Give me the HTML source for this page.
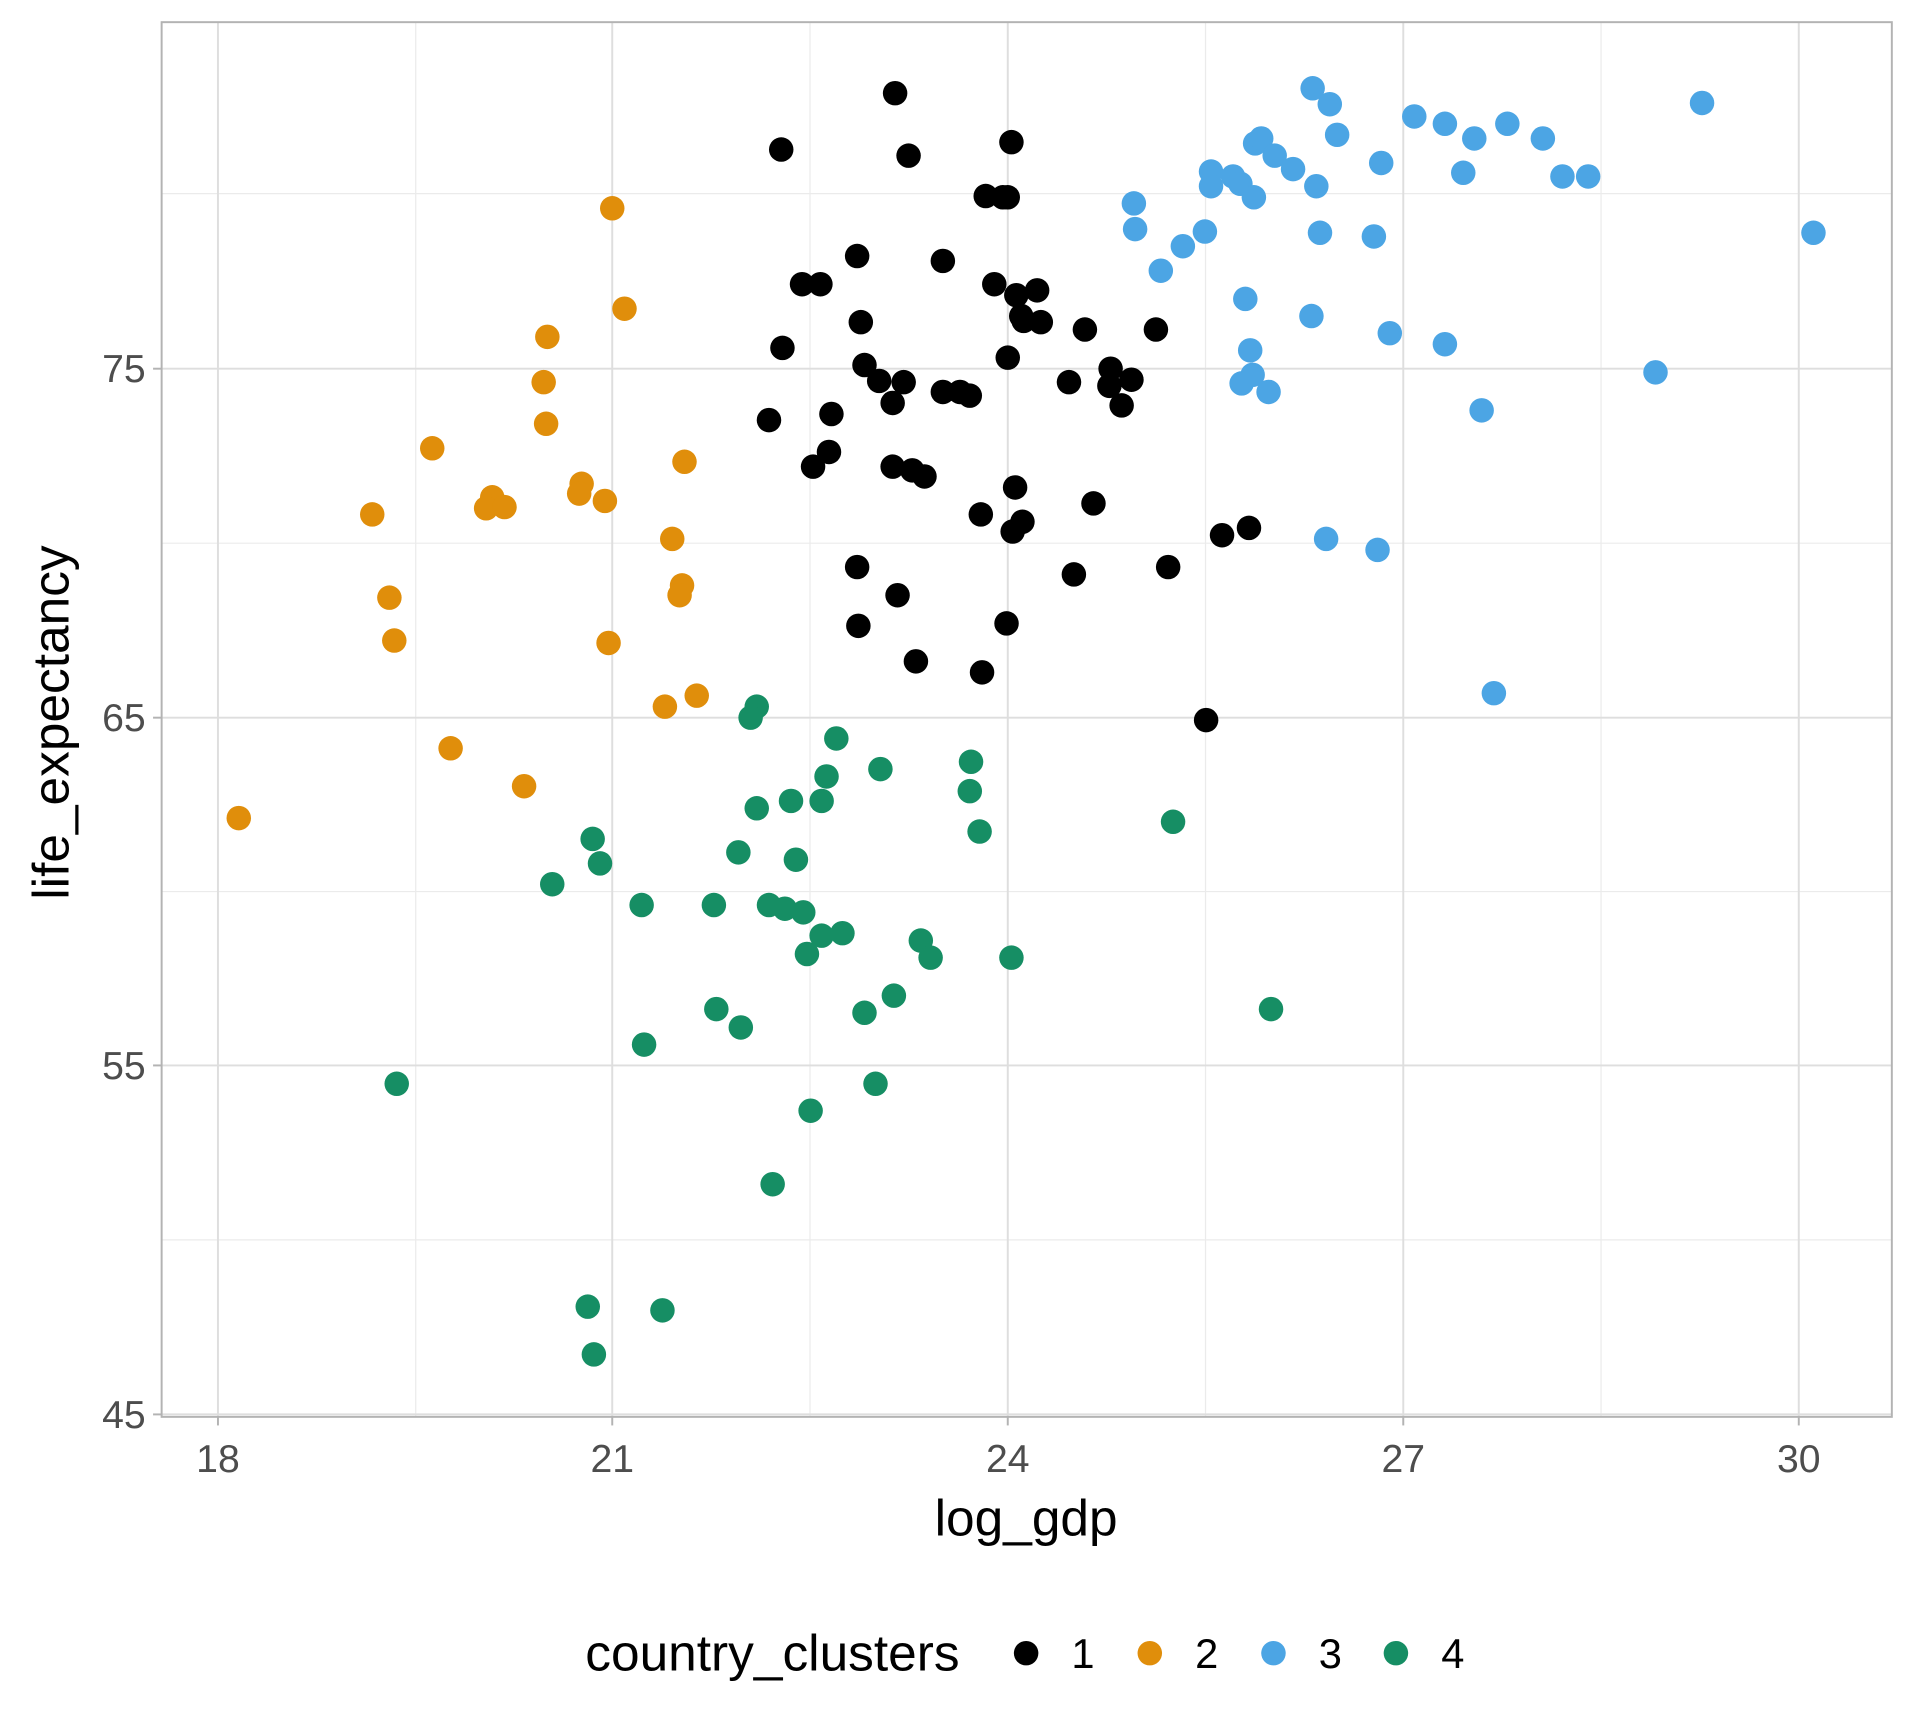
<!DOCTYPE html>
<html><head><meta charset="utf-8"><style>
html,body{margin:0;padding:0;background:#fff;}
svg{display:block;}
text{font-family:"Liberation Sans",Arial,sans-serif;}
</style></head><body>
<svg width="1920" height="1728" viewBox="0 0 1568 1411" xmlns="http://www.w3.org/2000/svg">
<rect width="1568" height="1411" fill="#fff"/>
<g stroke="#ebebeb" stroke-width="1">
<line x1="339.5" y1="18" x2="339.5" y2="1157"/><line x1="661.5" y1="18" x2="661.5" y2="1157"/><line x1="984.5" y1="18" x2="984.5" y2="1157"/><line x1="1307.5" y1="18" x2="1307.5" y2="1157"/>
<line x1="132" y1="158" x2="1545" y2="158"/><line x1="132" y1="443.5" x2="1545" y2="443.5"/><line x1="132" y1="728" x2="1545" y2="728"/><line x1="132" y1="1012.5" x2="1545" y2="1012.5"/>
</g>
<g stroke="#dedede" stroke-width="1.6">
<line x1="178" y1="18" x2="178" y2="1157"/><line x1="500" y1="18" x2="500" y2="1157"/><line x1="823" y1="18" x2="823" y2="1157"/><line x1="1146" y1="18" x2="1146" y2="1157"/><line x1="1469" y1="18" x2="1469" y2="1157"/>
<line x1="132" y1="301" x2="1545" y2="301"/><line x1="132" y1="586" x2="1545" y2="586"/><line x1="132" y1="870" x2="1545" y2="870"/><line x1="132" y1="1155" x2="1545" y2="1155"/>
</g>
<rect x="132" y="18" width="1413" height="1139" fill="none" stroke="#b3b3b3" stroke-width="1.6"/>
<g stroke="#b3b3b3" stroke-width="1.6">
<line x1="178" y1="1157" x2="178" y2="1164"/><line x1="500" y1="1157" x2="500" y2="1164"/><line x1="823" y1="1157" x2="823" y2="1164"/><line x1="1146" y1="1157" x2="1146" y2="1164"/><line x1="1469" y1="1157" x2="1469" y2="1164"/>
<line x1="125" y1="301" x2="132" y2="301"/><line x1="125" y1="586" x2="132" y2="586"/><line x1="125" y1="870" x2="132" y2="870"/><line x1="125" y1="1155" x2="132" y2="1155"/>
</g>
<g font-size="32" fill="#4d4d4d" text-anchor="middle">
<text x="178" y="1202">18</text><text x="500" y="1202">21</text><text x="823" y="1202">24</text><text x="1146" y="1202">27</text><text x="1469" y="1202">30</text>
</g>
<g font-size="32" fill="#4d4d4d" text-anchor="end">
<text x="119" y="312">75</text><text x="119" y="597">65</text><text x="119" y="881">55</text><text x="119" y="1166">45</text>
</g>
<text x="838" y="1254" font-size="42" text-anchor="middle" fill="#000">log_gdp</text>
<text transform="translate(56,590) rotate(-90)" font-size="42" text-anchor="middle" fill="#000">life_expectancy</text>
<g fill="#000">
<circle cx="731" cy="76" r="10"/><circle cx="638" cy="122" r="10"/><circle cx="742" cy="127" r="10"/><circle cx="826" cy="116" r="10"/><circle cx="805" cy="160" r="10"/><circle cx="819" cy="161" r="10"/><circle cx="823" cy="161" r="10"/><circle cx="700" cy="209" r="10"/><circle cx="770" cy="213" r="10"/><circle cx="655" cy="232" r="10"/><circle cx="670" cy="232" r="10"/><circle cx="812" cy="232" r="10"/><circle cx="830" cy="241" r="10"/><circle cx="847" cy="237" r="10"/><circle cx="703" cy="263" r="10"/><circle cx="834" cy="258" r="10"/><circle cx="836" cy="262" r="10"/><circle cx="850" cy="263" r="10"/><circle cx="886" cy="269" r="10"/><circle cx="944" cy="269" r="10"/><circle cx="639" cy="284" r="10"/><circle cx="823" cy="292" r="10"/><circle cx="706" cy="298" r="10"/><circle cx="718" cy="311" r="10"/><circle cx="738" cy="312" r="10"/><circle cx="729" cy="329" r="10"/><circle cx="770" cy="320" r="10"/><circle cx="784" cy="320" r="10"/><circle cx="792" cy="323" r="10"/><circle cx="873" cy="312" r="10"/><circle cx="907" cy="301" r="10"/><circle cx="924" cy="310" r="10"/><circle cx="906" cy="315" r="10"/><circle cx="916" cy="331" r="10"/><circle cx="628" cy="343" r="10"/><circle cx="679" cy="338" r="10"/><circle cx="677" cy="369" r="10"/><circle cx="664" cy="381" r="10"/><circle cx="729" cy="381" r="10"/><circle cx="745" cy="384" r="10"/><circle cx="755" cy="389" r="10"/><circle cx="829" cy="398" r="10"/><circle cx="893" cy="411" r="10"/><circle cx="801" cy="420" r="10"/><circle cx="835" cy="426" r="10"/><circle cx="827" cy="434" r="10"/><circle cx="998" cy="437" r="10"/><circle cx="1020" cy="431" r="10"/><circle cx="700" cy="463" r="10"/><circle cx="877" cy="469" r="10"/><circle cx="954" cy="463" r="10"/><circle cx="733" cy="486" r="10"/><circle cx="701" cy="511" r="10"/><circle cx="822" cy="509" r="10"/><circle cx="748" cy="540" r="10"/><circle cx="802" cy="549" r="10"/><circle cx="985" cy="588" r="10"/>
</g>
<g fill="#e08e0b">
<circle cx="500" cy="170" r="10"/><circle cx="510" cy="252" r="10"/><circle cx="447" cy="275" r="10"/><circle cx="444" cy="312" r="10"/><circle cx="446" cy="346" r="10"/><circle cx="353" cy="366" r="10"/><circle cx="559" cy="377" r="10"/><circle cx="475" cy="395" r="10"/><circle cx="473" cy="403" r="10"/><circle cx="494" cy="409" r="10"/><circle cx="402" cy="406" r="10"/><circle cx="397" cy="415" r="10"/><circle cx="412" cy="414" r="10"/><circle cx="304" cy="420" r="10"/><circle cx="549" cy="440" r="10"/><circle cx="557" cy="478" r="10"/><circle cx="555" cy="486" r="10"/><circle cx="318" cy="488" r="10"/><circle cx="322" cy="523" r="10"/><circle cx="497" cy="525" r="10"/><circle cx="569" cy="568" r="10"/><circle cx="543" cy="577" r="10"/><circle cx="368" cy="611" r="10"/><circle cx="428" cy="642" r="10"/><circle cx="195" cy="668" r="10"/>
</g>
<g fill="#4ca5e4">
<circle cx="1072" cy="72" r="10"/><circle cx="1086" cy="85" r="10"/><circle cx="1390" cy="84" r="10"/><circle cx="1155" cy="95" r="10"/><circle cx="1180" cy="101" r="10"/><circle cx="1231" cy="101" r="10"/><circle cx="1092" cy="110" r="10"/><circle cx="1204" cy="113" r="10"/><circle cx="1260" cy="113" r="10"/><circle cx="1025" cy="117" r="10"/><circle cx="1030" cy="113" r="10"/><circle cx="1041" cy="127" r="10"/><circle cx="1128" cy="133" r="10"/><circle cx="989" cy="140" r="10"/><circle cx="1007" cy="144" r="10"/><circle cx="1056" cy="138" r="10"/><circle cx="1013" cy="150" r="10"/><circle cx="989" cy="152" r="10"/><circle cx="1075" cy="152" r="10"/><circle cx="1024" cy="161" r="10"/><circle cx="1195" cy="141" r="10"/><circle cx="1276" cy="144" r="10"/><circle cx="1297" cy="144" r="10"/><circle cx="926" cy="166" r="10"/><circle cx="927" cy="187" r="10"/><circle cx="984" cy="189" r="10"/><circle cx="1078" cy="190" r="10"/><circle cx="1122" cy="193" r="10"/><circle cx="1481" cy="190" r="10"/><circle cx="966" cy="201" r="10"/><circle cx="948" cy="221" r="10"/><circle cx="1017" cy="244" r="10"/><circle cx="1071" cy="258" r="10"/><circle cx="1135" cy="272" r="10"/><circle cx="1180" cy="281" r="10"/><circle cx="1021" cy="286" r="10"/><circle cx="1023" cy="306" r="10"/><circle cx="1014" cy="313" r="10"/><circle cx="1036" cy="320" r="10"/><circle cx="1352" cy="304" r="10"/><circle cx="1210" cy="335" r="10"/><circle cx="1083" cy="440" r="10"/><circle cx="1125" cy="449" r="10"/><circle cx="1220" cy="566" r="10"/>
</g>
<g fill="#168e64">
<circle cx="618" cy="577" r="10"/><circle cx="613" cy="586" r="10"/><circle cx="683" cy="603" r="10"/><circle cx="793" cy="622" r="10"/><circle cx="719" cy="628" r="10"/><circle cx="675" cy="634" r="10"/><circle cx="792" cy="646" r="10"/><circle cx="618" cy="660" r="10"/><circle cx="646" cy="654" r="10"/><circle cx="671" cy="654" r="10"/><circle cx="958" cy="671" r="10"/><circle cx="800" cy="679" r="10"/><circle cx="484" cy="685" r="10"/><circle cx="603" cy="696" r="10"/><circle cx="650" cy="702" r="10"/><circle cx="490" cy="705" r="10"/><circle cx="451" cy="722" r="10"/><circle cx="524" cy="739" r="10"/><circle cx="583" cy="739" r="10"/><circle cx="628" cy="739" r="10"/><circle cx="641" cy="742" r="10"/><circle cx="656" cy="745" r="10"/><circle cx="688" cy="762" r="10"/><circle cx="671" cy="764" r="10"/><circle cx="752" cy="768" r="10"/><circle cx="659" cy="779" r="10"/><circle cx="760" cy="782" r="10"/><circle cx="826" cy="782" r="10"/><circle cx="730" cy="813" r="10"/><circle cx="585" cy="824" r="10"/><circle cx="706" cy="827" r="10"/><circle cx="1038" cy="824" r="10"/><circle cx="605" cy="839" r="10"/><circle cx="526" cy="853" r="10"/><circle cx="324" cy="885" r="10"/><circle cx="715" cy="885" r="10"/><circle cx="662" cy="907" r="10"/><circle cx="631" cy="967" r="10"/><circle cx="480" cy="1067" r="10"/><circle cx="541" cy="1070" r="10"/><circle cx="485" cy="1106" r="10"/>
</g>
<text x="478" y="1364" font-size="42" fill="#000">country_clusters</text>
<circle cx="838" cy="1350" r="10" fill="#000"/><text x="875" y="1362" font-size="34" fill="#000">1</text>
<circle cx="939" cy="1350" r="10" fill="#e08e0b"/><text x="976" y="1362" font-size="34" fill="#000">2</text>
<circle cx="1040" cy="1350" r="10" fill="#4ca5e4"/><text x="1077" y="1362" font-size="34" fill="#000">3</text>
<circle cx="1140" cy="1350" r="10" fill="#168e64"/><text x="1177" y="1362" font-size="34" fill="#000">4</text>
</svg>
</body></html>
